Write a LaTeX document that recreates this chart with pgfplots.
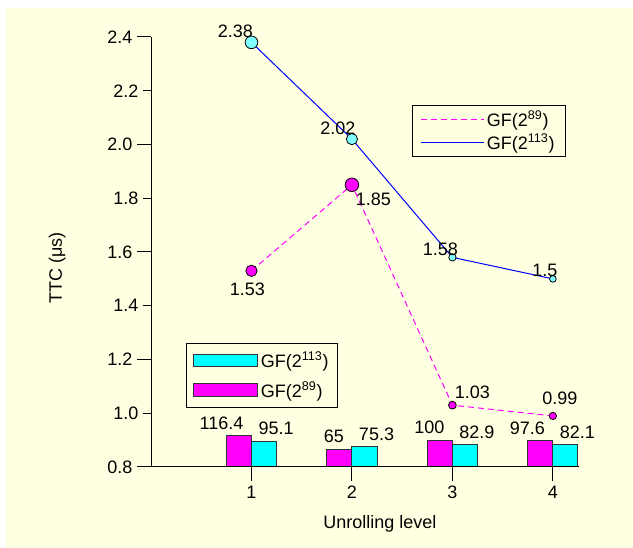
\documentclass[border=0pt]{standalone}
\usepackage{fontspec}
\setmainfont{Liberation Sans}
\usepackage{pgfplots}
\pgfplotsset{compat=1.18}
\usepackage{pgfplotstable}
\definecolor{panel}{RGB}{255,255,225}
\definecolor{mag}{RGB}{255,0,255}
\definecolor{cyn}{RGB}{0,255,255}
\definecolor{lcyn}{RGB}{128,255,255}
\definecolor{edge}{RGB}{51,51,51}
\definecolor{lblue}{RGB}{0,0,255}

\pgfplotstableread{
x a b la lb
1 116.4 95.1 116.4 95.1
2 65 75.3 65 75.3
3 100 82.9 100 82.9
4 97.6 82.1 97.6 82.1
}\bars

\pgfplotstableread{
x y r dx dy lbl
1 2.38 4.75 -12 3.9 2.38
2 2.02 4.2 -10.5 3.2 2.02
3 1.58 2.75 -9 1.3 1.58
4 1.50 2.5 -6 1.7 1.5
}\gfhigh

\pgfplotstableread{
x y r dx dy lbl
1 1.53 4.25 -3 -18.5 1.53
2 1.85 5.1 16 -15.5 1.85
3 1.03 2.9 15 4.7 1.03
4 0.99 2.75 5.25 8.25 0.99
}\gflow

\newcommand{\fs}{\fontsize{13.5}{16}\selectfont}

\pgfplotsset{
  base/.style={
    at={(113.25pt,60.75pt)}, anchor=south west,
    scale only axis, width=321pt, height=322.5pt,
    xmin=0, xmax=4.26,
    clip=false,
    tick label style={font=\fs},
    label style={font=\fs},
    legend style={font=\fs},
  }
}

\begin{document}
\begin{tikzpicture}
\fill[white] (0,0) rectangle (474.75pt,411pt);
\useasboundingbox (0,0) rectangle (474.75pt,411pt);
\fill[panel] (4.5pt,0) rectangle (474.75pt,405pt);

% bars
\begin{axis}[base,
  ymin=0, ymax=1600, hide axis,
  ybar=0pt, bar width=0.25,
  point meta=explicit symbolic,
  nodes near coords,
  legend image code/.code={\draw[#1] (0pt,-4.75pt) rectangle (48pt,4.75pt);},
  reverse legend,
  legend cell align=left,
  legend style={at={(0.0818,0.2884)}, anchor=north west, draw=black, line width=0.75pt, fill=none,
     row sep=5pt, inner xsep=5pt, inner ysep=4pt,
     nodes={inner sep=2pt, line width=0.75pt}},
]
\addplot[fill=mag, draw=edge, line width=0.75pt,
  every node near coord/.append style={anchor=south east, inner sep=0pt, xshift=3.75pt, yshift=4.5pt, text=black, font=\fs}]
  table[x=x, y=a, meta=la]{\bars};
\addlegendentry{GF(2\textsuperscript{89})}
\addplot[fill=cyn, draw=edge, line width=0.75pt,
  every node near coord/.append style={anchor=south west, inner sep=0pt, xshift=-4.5pt, yshift=4.5pt, text=black, font=\fs}]
  table[x=x, y=b, meta=lb]{\bars};
\addlegendentry{GF(2\textsuperscript{113})}
\end{axis}

% lines
\begin{axis}[base,
  ymin=0.8, ymax=2.4,
  axis lines*=left,
  axis line style={black, line width=0.75pt},
  xtick={1,2,3,4},
  ytick={0.8,1.2,1.6,2.0,2.4},
  extra y ticks={1.0,1.4,1.8,2.2},
  extra y tick style={major tick length=6pt},
  major tick length=10.5pt,
  tick align=outside,
  tick style={black, line width=0.75pt},
  /pgf/number format/assume math mode=true,
  yticklabel={\pgfmathprintnumber[fixed, fixed zerofill, precision=1, assume math mode=true]{\tick}},
  xlabel={Unrolling level},
  ylabel={TTC (μs)},
  xlabel style={at={(axis description cs:0.535,-0.1419)}, anchor=base},
  ylabel style={at={(axis description cs:-0.208,0.4635)}, anchor=base},
  legend image code/.code={\draw[#1] (0pt,0pt) -- (47pt,0pt);},
  legend cell align=left,
  legend style={at={(0.6098,0.8419)}, anchor=north west, draw=black, line width=0.75pt, fill=none,
     row sep=0pt, inner xsep=6pt, inner ysep=2pt,
     nodes={inner sep=2pt, line width=0.75pt}},
]
\addplot[mag, dashed, dash pattern=on 4.5pt off 3pt, line width=0.75pt, mark=none]
  table[x=x, y=y]{\gflow};
\addlegendentry{GF(2\textsuperscript{89})}
\addplot[lblue, line width=0.75pt, mark=none]
  table[x=x, y=y]{\gfhigh};
\addlegendentry{GF(2\textsuperscript{113})}

\addplot[forget plot, scatter, only marks, mark=*,
  scatter/use mapped color={draw=black, fill=lcyn},
  line width=0.6pt,
  visualization depends on={\thisrow{r}\as\rad},
  scatter/@pre marker code/.append style={/tikz/mark size=\rad}]
  table[x=x, y=y]{\gfhigh};
\addplot[forget plot, scatter, only marks, mark=*,
  scatter/use mapped color={draw=black, fill=mag},
  line width=0.6pt,
  visualization depends on={\thisrow{r}\as\rad},
  scatter/@pre marker code/.append style={/tikz/mark size=\rad}]
  table[x=x, y=y]{\gflow};

\addplot[forget plot, draw=none, mark=none,
  point meta=explicit symbolic, nodes near coords,
  visualization depends on={\thisrow{dx}\as\ddx},
  visualization depends on={\thisrow{dy}\as\ddy},
  every node near coord/.append style={anchor=base, inner sep=0pt, xshift=\ddx pt, yshift=\ddy pt, text=black, font=\fs}]
  table[x=x, y=y, meta=lbl]{\gfhigh};
\addplot[forget plot, draw=none, mark=none,
  point meta=explicit symbolic, nodes near coords,
  visualization depends on={\thisrow{dx}\as\ddx},
  visualization depends on={\thisrow{dy}\as\ddy},
  every node near coord/.append style={anchor=base, inner sep=0pt, xshift=\ddx pt, yshift=\ddy pt, text=black, font=\fs}]
  table[x=x, y=y, meta=lbl]{\gflow};
\end{axis}
\end{tikzpicture}
\end{document}
